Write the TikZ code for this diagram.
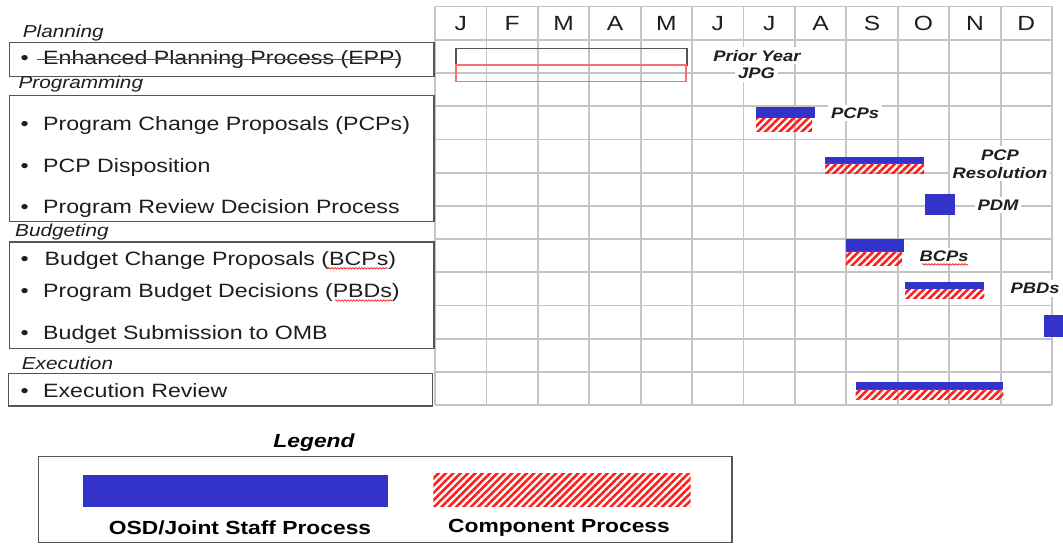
\documentclass[tikz,border=0pt]{standalone}
\usepackage{fontspec}
\setmainfont{Liberation Sans}[FakeStretch=1.2]
\usetikzlibrary{patterns.meta,decorations.pathmorphing}
\definecolor{osdblue}{RGB}{51,51,204}
\definecolor{gridgray}{RGB}{196,196,196}
\definecolor{boxgray}{RGB}{85,85,85}
\definecolor{txt}{RGB}{30,30,30}
\definecolor{jpgred}{RGB}{250,110,110}
\definecolor{hatchred}{RGB}{255,30,30}
\tikzset{
  gridln/.style={draw=gridgray, line width=1.8pt},
  listbox/.style={draw=boxgray, line width=1.5pt},
  osd/.style={fill=osdblue},
  comp/.style={pattern={Lines[angle=45,distance=5.2pt,line width=2.6pt]}, pattern color=hatchred},
  month/.style={anchor=base, inner sep=0pt, text=txt, font=\fontsize{20.5}{24}\selectfont},
  phase/.style={anchor=base west, inner sep=0pt, text=txt, font=\itshape\fontsize{17.3}{20}\selectfont},
  item/.style={anchor=base west, inner sep=0pt, text=txt, font=\fontsize{19.3}{23}\selectfont},
  bul/.style={anchor=base west, inner sep=0pt, text=txt, font=\fontsize{19.3}{23}\selectfont},
  barlbl/.style={anchor=base, fill=white, inner sep=3pt, text=txt, font=\bfseries\itshape\fontsize{15.3}{17}\selectfont},
  leglbl/.style={anchor=base, inner sep=0pt, text=black, font=\bfseries\fontsize{19}{22}\selectfont},
  spell/.style={draw=red, line width=0.6pt, decorate, decoration={snake, amplitude=0.8pt, segment length=3pt}}
}
\begin{document}
\begin{tikzpicture}[x=1pt,y=-1pt]
\fill[white] (0,0) rectangle (1063,544);
\useasboundingbox (0,0) rectangle (1063,544);

% grid
\foreach \i in {0,...,12}
  \draw[gridln] ({435+51.42*\i},6.5) -- ({435+51.42*\i},405.1);
\foreach \y in {6.5,39.9,73.1,106.3,139.5,172.7,205.9,239.1,272.3,305.5,338.7,371.9,405.1}
  \draw[gridln] (435,\y) -- (1052,\y);

% months
\foreach \m [count=\i from 0] in {J,F,M,A,M,J,J,A,S,O,N,D}
  \node[month] (m\i) at ({435+51.42*(\i+0.5)},30.3) {\m};

% list boxes
\draw[listbox] (9.5,42.3) rectangle (434,76.3);
\draw[listbox] (9.5,95.4) rectangle (434,221.4);
\draw[listbox] (9.5,241.8) rectangle (434,348.7);
\draw[listbox] (8.5,373.7) rectangle (432.5,406);

% phase labels
\node[phase] (planning) at (22.7,37.3) {Planning};
\node[phase] (programming) at (18.3,88.3) {Programming};
\node[phase] (budgeting) at (15,236.7) {Budgeting};
\node[phase] (execution) at (21.7,369.3) {Execution};

% items
\node[bul] (b1) at (20.5,64.5) {•};
\node[item] (epp) at (43,64.5) {Enhanced Planning Process (EPP)};
\draw[boxgray, line width=1.2pt] (37,59.3) -- (401,59.3);
\node[bul] (b2) at (20.5,130.5) {•};
\node[item] (pcps) at (43,130.5) {Program Change Proposals (PCPs)};
\node[bul] (b3) at (20.5,172) {•};
\node[item] (pcpd) at (43,172) {PCP Disposition};
\node[bul] (b4) at (20.5,213.5) {•};
\node[item] (prdp) at (43,213.5) {Program Review Decision Process};
\node[bul] (b5) at (20.5,265) {•};
\node[item] (bcps) at (44.5,265) {Budget Change Proposals (BCPs)};
\node[bul] (b6) at (20.5,297.5) {•};
\node[item] (pbds) at (43,297.5) {Program Budget Decisions (PBDs)};
\node[bul] (b7) at (20.5,339.3) {•};
\node[item] (bso) at (43,339.3) {Budget Submission to OMB};
\node[bul] (b8) at (20.5,397.7) {•};
\node[item] (er) at (43,397.7) {Execution Review};
\draw[spell] (328,268.3) -- (388,268.3);
\draw[spell] (335,300.5) -- (392,300.5);

% prior year JPG
\draw[boxgray, line width=1.3pt] (456,48.3) rectangle (687,65);
\draw[jpgred, line width=1.3pt] (456,65) rectangle (686,81.7);

% bars
\fill[osd] (756,106.9) rectangle (815,118);
\fill[comp] (756,118) rectangle (812,131.8);
\fill[osd] (825,156.8) rectangle (924,163.8);
\fill[comp] (825,163.8) rectangle (924,173.5);
\fill[osd] (925.4,193.6) rectangle (954.6,215.1);
\fill[osd] (846,239.4) rectangle (904,251.6);
\fill[comp] (846,251.6) rectangle (902,265.4);
\fill[osd] (905,281.7) rectangle (984.4,289);
\fill[comp] (905,289) rectangle (984.4,298.4);
\fill[osd] (1044,315) rectangle (1063,337.3);
\fill[osd] (855.6,381.7) rectangle (1003.4,389.7);
\fill[comp] (855.6,389.7) rectangle (1003.4,399);

% bar labels
\node[barlbl] (prior) at (757,61) {Prior Year};
\node[barlbl] (jpg) at (756.5,78.4) {JPG};
\node[barlbl] (pcplbl) at (855,118.3) {PCPs};
\node[barlbl] (pcpres1) at (1000,160) {PCP};
\node[barlbl] (pcpres2) at (1000,178.3) {Resolution};
\node[barlbl] (pdm) at (998,210.2) {PDM};
\node[barlbl] (bcplbl) at (944,261.2) {BCPs};
\node[barlbl] (pbdlbl) at (1035,293.5) {PBDs};
\draw[spell] (922,264.4) -- (968,264.4);

% legend
\node[leglbl, font=\bfseries\itshape\fontsize{19}{22}\selectfont] (legend) at (314,447.7) {Legend};
\draw[draw=boxgray, line width=1.5pt] (38.6,456.7) rectangle (732,542.7);
\fill[osd] (82.7,475) rectangle (387.7,507.3);
\fill[comp] (433.3,473.3) rectangle (690.7,506.7);
\node[leglbl] (osdlbl) at (240,534) {OSD/Joint Staff Process};
\node[leglbl] (complbl) at (559,532.7) {Component Process};
\end{tikzpicture}
\end{document}
